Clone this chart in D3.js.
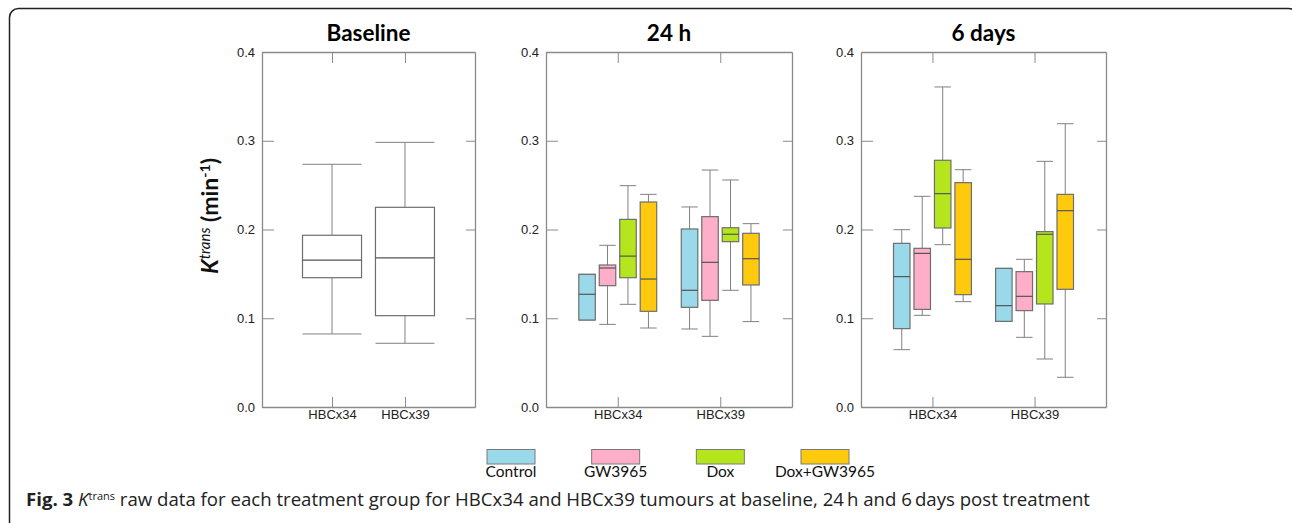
<!DOCTYPE html>
<html>
<head>
<meta charset="utf-8">
<title>Ktrans raw data</title>
<script src="https://d3js.org/d3.v7.min.js"></script>
<style>
  body { margin: 0; background: #fff; }
  text { font-family: 'Liberation Sans', Arial, sans-serif; }
  .title, .ylab, .legend text { font-family: Lato, 'Open Sans', sans-serif; }
  .caption { font-family: 'Open Sans', sans-serif; }
  .axis path, .axis line { stroke: #8a8a8a; }
  .axis text { fill: #222; font-size: 13px; }
</style>
</head>
<body>
<div id="chart"></div>
<script>
// ---- data ----
const panels = ["Baseline", "24 h", "6 days"];
const tumours = ["HBCx34", "HBCx39"];
const groups = ["Control", "GW3965", "Dox", "Dox+GW3965"];
const yTicks = [0.0, 0.1, 0.2, 0.3, 0.4];

// each box: [whisker low, q1, median, q3, whisker high]
const baseline = [
  [0.0823, 0.1457, 0.1656, 0.1935, 0.2735],
  [0.0718, 0.1029, 0.168, 0.225, 0.2982]
];
const h24 = [
  [[0.098, 0.098, 0.127, 0.1495, 0.1495],
   [0.0931, 0.1367, 0.1566, 0.160, 0.1822],
   [0.1157, 0.1457, 0.170, 0.2114, 0.2494],
   [0.089, 0.1078, 0.1442, 0.231, 0.2396]],
  [[0.0879, 0.1123, 0.1315, 0.2006, 0.2254],
   [0.0796, 0.1202, 0.163, 0.2145, 0.267],
   [0.1315, 0.1863, 0.1946, 0.202, 0.2558],
   [0.0962, 0.1375, 0.1671, 0.1957, 0.2066]]
];
const d6 = [
  [[0.0646, 0.0883, 0.1469, 0.1844, 0.1998],
   [0.1033, 0.110, 0.1731, 0.1788, 0.2374],
   [0.1829, 0.2017, 0.2404, 0.278, 0.3606],
   [0.1187, 0.1266, 0.1664, 0.2528, 0.2674]],
  [[0.0965, 0.0965, 0.1142, 0.1562, 0.1562],
   [0.0785, 0.1086, 0.1247, 0.1525, 0.1664],
   [0.0541, 0.1161, 0.1946, 0.1976, 0.2768],
   [0.0335, 0.1326, 0.2212, 0.2396, 0.3192]]
];

const colors = ["#99d9ea", "#ffaec9", "#b5e61d", "#ffc90e"];

// ---- layout ----
const W = 1292, H = 523;
const yTop = 52, yBot = 407;
const frames = [
  {x0: 262, x1: 475, pad: 0.96, box: 59},
  {x0: 546, x1: 792, pad: 0.70, box: 16.5},
  {x0: 861, x1: 1106, pad: 0.70, box: 16.5}
];

const svg = d3.select("#chart").append("svg")
  .attr("width", W).attr("height", H);

// outer rounded frame
svg.append("rect")
  .attr("x", 9.5).attr("y", 8.5)
  .attr("width", 1288).attr("height", 522)
  .attr("rx", 9).attr("fill", "none")
  .attr("stroke", "#222").attr("stroke-width", 1.5);

const y = d3.scaleLinear().domain([0, 0.4]).range([yBot, yTop]);

function drawBox(g, cx, w, s, fill) {
  const [lo, q1, med, q3, hi] = s;
  // whiskers
  g.append("line").attr("x1", cx).attr("x2", cx)
    .attr("y1", y(hi)).attr("y2", y(q3)).attr("stroke", "#808080");
  g.append("line").attr("x1", cx).attr("x2", cx)
    .attr("y1", y(q1)).attr("y2", y(lo)).attr("stroke", "#808080");
  g.append("line").attr("x1", cx - w / 2).attr("x2", cx + w / 2)
    .attr("y1", y(hi)).attr("y2", y(hi)).attr("stroke", "#808080");
  g.append("line").attr("x1", cx - w / 2).attr("x2", cx + w / 2)
    .attr("y1", y(lo)).attr("y2", y(lo)).attr("stroke", "#808080");
  g.append("rect")
    .attr("x", cx - w / 2).attr("y", y(q3))
    .attr("width", w).attr("height", Math.max(y(q1) - y(q3), 0.5))
    .attr("fill", fill || "#fff").attr("stroke", "#6e6e6e").attr("stroke-width", 1.2);
  g.append("line").attr("x1", cx - w / 2).attr("x2", cx + w / 2)
    .attr("y1", y(med)).attr("y2", y(med))
    .attr("stroke", "#555").attr("stroke-width", 1.2);
}

panels.forEach((name, i) => {
  const f = frames[i];
  const g = svg.append("g");
  const x = d3.scalePoint().domain(tumours).range([f.x0, f.x1]).padding(f.pad);

  // axes
  g.append("g").attr("class", "axis")
    .attr("transform", `translate(${f.x0},0)`)
    .call(d3.axisLeft(y).tickValues(yTicks).tickFormat(d3.format(".1f"))
      .tickSizeInner(-12).tickSizeOuter(0).tickPadding(7));
  g.append("g").attr("class", "axis")
    .attr("transform", `translate(${f.x1},0)`)
    .call(d3.axisRight(y).tickValues(yTicks).tickFormat("")
      .tickSizeInner(-9).tickSizeOuter(0));
  g.append("g").attr("class", "axis")
    .attr("transform", `translate(0,${yTop})`)
    .call(d3.axisTop(x).tickFormat("").tickSizeInner(-11).tickSizeOuter(0));
  g.append("g").attr("class", "axis")
    .attr("transform", `translate(0,${yBot})`)
    .call(d3.axisBottom(x).tickSizeInner(-10).tickSizeOuter(0).tickPadding(3));
  g.selectAll(".axis path").attr("stroke-width", 1.3);

  // title
  g.append("text").attr("class", "title")
    .attr("x", (f.x0 + f.x1) / 2).attr("y", 41)
    .attr("text-anchor", "middle")
    .attr("font-size", 22.5).attr("font-weight", "bold")
    .text(name);

  if (i === 0) {
    tumours.forEach((t, j) => drawBox(g, x(t), f.box, baseline[j], null));
  } else {
    const data = i === 1 ? h24 : d6;
    const xg = d3.scalePoint().domain(groups).range([-30.7, 30.7]);
    tumours.forEach((t, j) => {
      groups.forEach((gr, k) => {
        drawBox(g, x(t) + xg(gr), f.box, data[j][k], colors[k]);
      });
    });
  }
});

// y axis label
const yl = svg.append("text").attr("class", "ylab")
  .attr("transform", "translate(218,216) rotate(-90)")
  .attr("text-anchor", "middle")
  .attr("font-size", 23).attr("font-weight", "bold").attr("fill", "#111");
yl.append("tspan").attr("font-style", "italic").text("K");
yl.append("tspan").attr("font-style", "italic").attr("font-weight", "normal")
  .attr("font-size", 15).attr("dy", -8).text("trans");
yl.append("tspan").attr("dy", 8).text(" (min");
yl.append("tspan").attr("font-size", 14).attr("dy", -8).text("-1");
yl.append("tspan").attr("dy", 8).text(")");

// legend
const xl = d3.scalePoint().domain(groups).range([511, 825]);
const leg = svg.append("g").attr("class", "legend");
groups.forEach((gr, k) => {
  leg.append("rect")
    .attr("x", xl(gr) - 24).attr("y", 449.5)
    .attr("width", 48).attr("height", 14.5)
    .attr("fill", colors[k]).attr("stroke", "#7a7a7a").attr("stroke-width", 1);
  leg.append("text")
    .attr("x", xl(gr)).attr("y", 477)
    .attr("text-anchor", "middle").attr("font-size", 15.5).attr("fill", "#111")
    .text(gr);
});

// caption
const cap = svg.append("text").attr("class", "caption")
  .attr("x", 26).attr("y", 506).attr("font-size", 16).attr("fill", "#222");
cap.append("tspan").attr("font-weight", "bold").text("Fig. 3 ");
cap.append("tspan").attr("font-style", "italic").text("K");
cap.append("tspan").attr("font-size", 11).attr("dy", -6).text("trans");
cap.append("tspan").attr("dy", 6)
  .text(" raw data for each treatment group for HBCx34 and HBCx39 tumours at baseline, 24\u2009h and 6\u2009days post treatment");
const len = cap.node().getComputedTextLength();
cap.attr("font-size", 16 * 1069 / len);
</script>
</body>
</html>
